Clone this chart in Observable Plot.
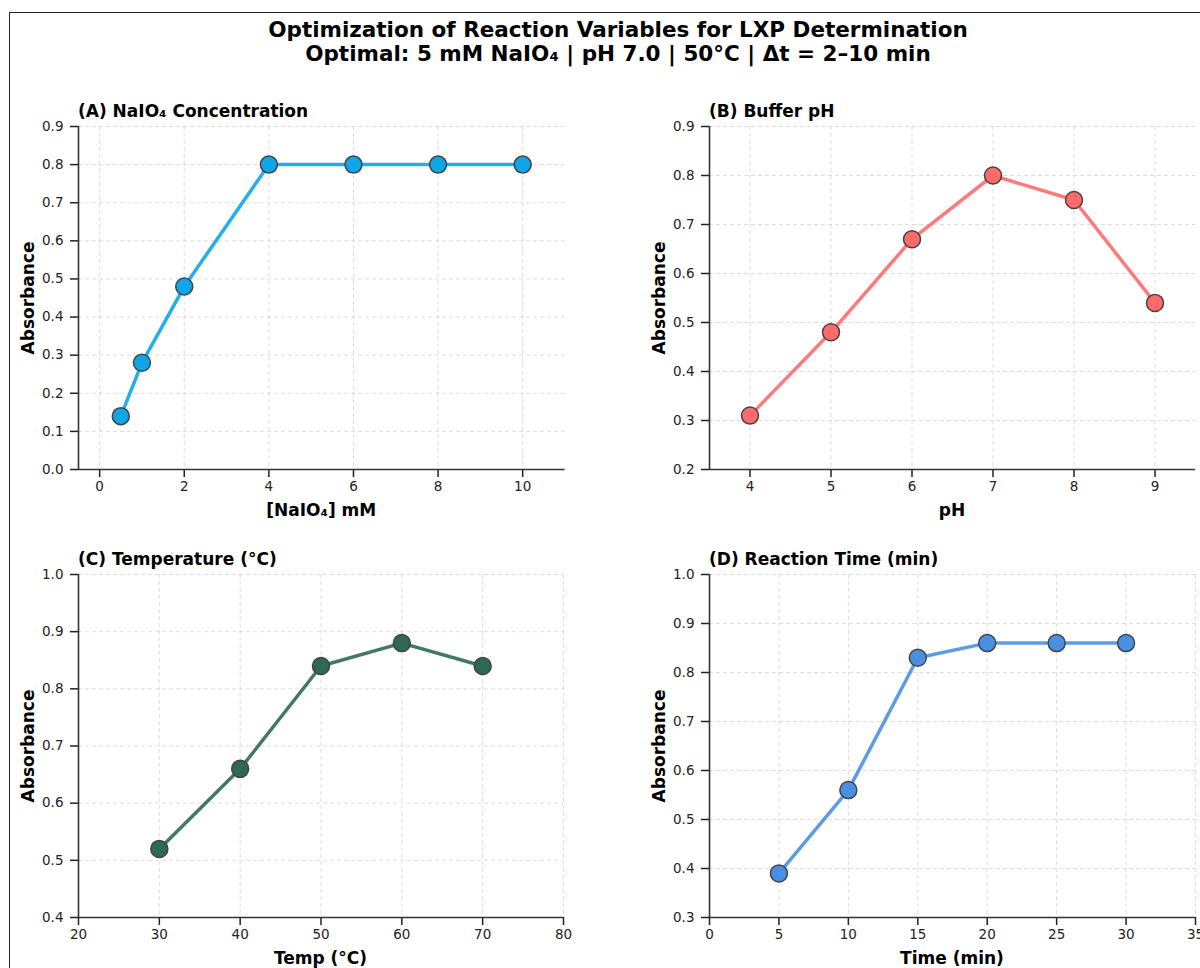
<!DOCTYPE html>
<html><head><meta charset="utf-8">
<script src="https://cdn.jsdelivr.net/npm/d3@7"></script>
<script src="https://cdn.jsdelivr.net/npm/@observablehq/plot@0.6"></script>
<style>
html,body{margin:0;padding:0;background:#fff;overflow:hidden;width:1200px;height:968px}
#fig{position:relative;width:1200px;height:968px;font-family:"DejaVu Sans",sans-serif;color:#000;overflow:hidden}
.frame{position:absolute;left:9px;top:12px;width:1400px;height:1200px;border-left:1px solid #222;border-top:1px solid #222;box-sizing:border-box}
.t{position:absolute;white-space:nowrap;font-weight:bold}
.title{left:0;width:1236px;top:18px;font-size:21.5px;line-height:24px;text-align:center}
.ptitle{font-size:17px;line-height:20px}
.xl{font-size:17px;line-height:20px;text-align:center}
.yl{font-size:17px;line-height:20px;transform:translate(-50%,-50%) rotate(-90deg)}
.pl{position:absolute}
.pl text{font-size:13.5px !important}
</style></head>
<body><div id="fig"><div class="frame"></div>
<div class="t title">Optimization of Reaction Variables for LXP Determination<br>Optimal: 5 mM NaIO₄ | pH 7.0 | 50°C | Δt = 2–10 min</div>
</div>
<script>
// Panel A: NaIO4 concentration
const concX = [0.5, 1, 2, 4, 6, 8, 10];
const concY = [0.14, 0.28, 0.48, 0.80, 0.80, 0.80, 0.80];
const concXTicks = [0, 2, 4, 6, 8, 10];
const concYTicks = [0, 0.1, 0.2, 0.3, 0.4, 0.5, 0.6, 0.7, 0.8, 0.9];
// Panel B: buffer pH
const phX = [4, 5, 6, 7, 8, 9];
const phY = [0.31, 0.48, 0.67, 0.80, 0.75, 0.54];
const phXTicks = [4, 5, 6, 7, 8, 9];
const phYTicks = [0.2, 0.3, 0.4, 0.5, 0.6, 0.7, 0.8, 0.9];
// Panel C: temperature
const tempX = [30, 40, 50, 60, 70];
const tempY = [0.52, 0.66, 0.84, 0.88, 0.84];
const tempXTicks = [20, 30, 40, 50, 60, 70, 80];
const tempYTicks = [0.4, 0.5, 0.6, 0.7, 0.8, 0.9, 1.0];
// Panel D: reaction time
const timeX = [5, 10, 15, 20, 25, 30];
const timeY = [0.39, 0.56, 0.83, 0.86, 0.86, 0.86];
const timeXTicks = [0, 5, 10, 15, 20, 25, 30, 35];
const timeYTicks = [0.3, 0.4, 0.5, 0.6, 0.7, 0.8, 0.9, 1.0];

const panels = [
  {title:"(A) NaIO₄ Concentration", xlabel:"[NaIO₄] mM", xs:concX, ys:concY, xd:[-0.5, 11], yd:[0, 0.9], xt:concXTicks, yt:concYTicks, color:"#0EA5E9", fl:78, fr:564.5, ft:126, fb:469},
  {title:"(B) Buffer pH", xlabel:"pH", xs:phX, ys:phY, xd:[3.5, 9.5], yd:[0.2, 0.9], xt:phXTicks, yt:phYTicks, color:"#FF6B6B", fl:709, fr:1195, ft:126, fb:469},
  {title:"(C) Temperature (°C)", xlabel:"Temp (°C)", xs:tempX, ys:tempY, xd:[20, 80], yd:[0.4, 1.0], xt:tempXTicks, yt:tempYTicks, color:"#2D6A4F", fl:78, fr:563, ft:574, fb:917},
  {title:"(D) Reaction Time (min)", xlabel:"Time (min)", xs:timeX, ys:timeY, xd:[0, 35], yd:[0.3, 1.0], xt:timeXTicks, yt:timeYTicks, color:"#4A90E2", fl:709, fr:1195, ft:574, fb:917}
];

const fig = document.getElementById("fig");
const ML = 70, MR = 20, MT = 20, MB = 40;
for (const p of panels) {
  const data = p.xs.map((x, i) => ({x, y: p.ys[i]}));
  const w = (p.fr - p.fl) + ML + MR, h = (p.fb - p.ft) + MT + MB;
  const grid = {stroke:"#b0b0b0", strokeOpacity:0.55, strokeDasharray:"4,3", strokeWidth:0.8};
  const chart = Plot.plot({
    width: w, height: h, marginLeft: ML, marginRight: MR, marginTop: MT, marginBottom: MB,
    style: {fontFamily:"DejaVu Sans, sans-serif", fontSize:"13.5px", background:"transparent", overflow:"visible"},
    x: {domain: p.xd}, y: {domain: p.yd},
    marks: [
      Plot.gridX(p.xt, grid),
      Plot.gridY(p.yt, grid),
      Plot.axisX(p.xt, {tickSize:8, tickPadding:4, label:null, color:"#222", strokeWidth:1.5}),
      Plot.axisY(p.yt, {tickSize:8, tickPadding:7, tickFormat:d3.format(".1f"), label:null, color:"#222", strokeWidth:1.5}),
      Plot.ruleX([p.xd[0]], {stroke:"#333", strokeWidth:1.6}),
      Plot.ruleY([p.yd[0]], {stroke:"#333", strokeWidth:1.6}),
      Plot.line(data, {x:"x", y:"y", stroke:p.color, strokeWidth:3.5, strokeOpacity:0.9}),
      Plot.dot(data, {x:"x", y:"y", r:8.5, fill:p.color, stroke:"#444", strokeWidth:1.5})
    ]
  });
  chart.classList.add("pl");
  chart.style.left = (p.fl - ML) + "px";
  chart.style.top = (p.ft - MT) + "px";
  fig.appendChild(chart);

  const t = document.createElement("div");
  t.className = "t ptitle"; t.textContent = p.title;
  t.style.left = p.fl + "px"; t.style.top = (p.ft - 25) + "px";
  fig.appendChild(t);

  const xl = document.createElement("div");
  xl.className = "t xl"; xl.textContent = p.xlabel;
  xl.style.left = p.fl + "px"; xl.style.width = (p.fr - p.fl) + "px";
  xl.style.top = (p.fb + 31) + "px";
  fig.appendChild(xl);

  const yl = document.createElement("div");
  yl.className = "t yl"; yl.textContent = "Absorbance";
  yl.style.left = (p.fl - 50) + "px"; yl.style.top = ((p.ft + p.fb) / 2) + "px";
  fig.appendChild(yl);
}
</script>
</body></html>
